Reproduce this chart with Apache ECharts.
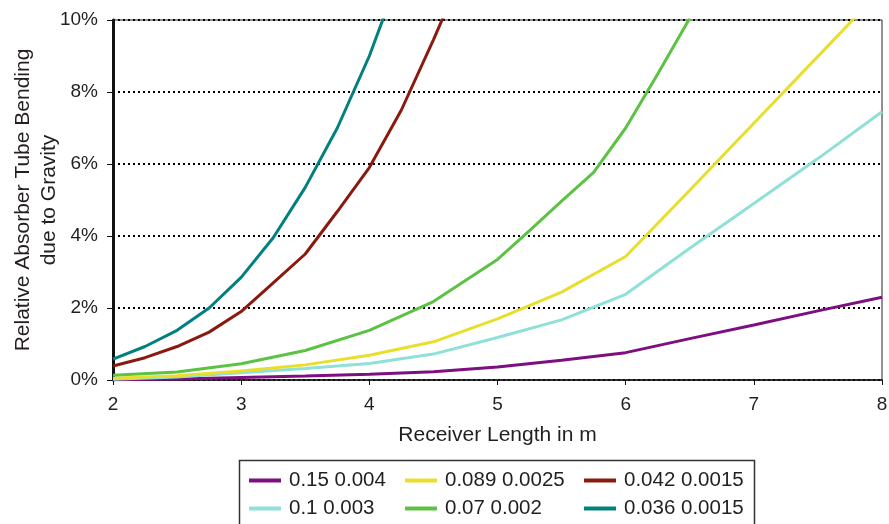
<!DOCTYPE html>
<html lang="en">

<head>
    <meta charset="UTF-8" />
    <title>Relative Absorber Tube Bending</title>
    <script src="https://cdn.jsdelivr.net/npm/echarts@6/dist/echarts.min.js"></script>
    <style>
        html, body { margin: 0; padding: 0; background: #ffffff; }
        #main { width: 889px; height: 524px; }
    </style>
</head>

<body>
    <div id="main"></div>

    <script type="text/javascript">
        // x positions (receiver length, m)
        var xFine = [2, 2.25, 2.5, 2.75, 3, 3.25, 3.5, 3.75, 4, 4.25, 4.5, 4.75];
        var xGreen = [2, 2.5, 3, 3.5, 4, 4.5, 5, 5.25, 5.5, 5.75, 6, 6.25, 6.5];
        var xHalf = [2, 2.5, 3, 3.5, 4, 4.5, 5, 5.5, 6, 6.5, 7, 7.5, 8];

        // bending in %
        var bend015 = [0.01, 0.03, 0.07, 0.11, 0.16, 0.23, 0.36, 0.55, 0.76, 1.15, 1.53, 1.92, 2.3];
        var bend01 = [0.02, 0.08, 0.2, 0.32, 0.46, 0.72, 1.18, 1.67, 2.38, 3.66, 4.9, 6.15, 7.45];
        var bend0089 = [0.05, 0.12, 0.25, 0.42, 0.69, 1.06, 1.7, 2.44, 3.43, 5.27, 7.13, 8.99, 10.85];
        var bend007 = [0.13, 0.22, 0.45, 0.82, 1.38, 2.18, 3.35, 4.15, 4.97, 5.77, 7.0, 8.5, 10.05];
        var bend0042 = [0.39, 0.62, 0.93, 1.33, 1.9, 2.7, 3.5, 4.68, 5.9, 7.5, 9.45, 11.5];
        var bend0036 = [0.58, 0.93, 1.38, 2.0, 2.85, 3.95, 5.35, 7.0, 9.0, 11.4];

        var yTicks = [0, 2, 4, 6, 8, 10];

        function pairs(xs, ys) {
            return ys.map(function (v, i) { return [xs[i], v]; });
        }

        var font = '"Liberation Sans", Arial, Helvetica, sans-serif';
        var txt = '#231f20';
        var lineIcon = 'path://M0,0L32,0L32,4L0,4Z';

        var myChart = echarts.init(document.getElementById('main'));

        function mkSeries(name, data, color) {
            return {
                name: name,
                type: 'line',
                data: data,
                showSymbol: false,
                symbol: 'none',
                clip: true,
                lineStyle: { color: color, width: 3 },
                itemStyle: { color: color }
            };
        }

        function mkLegend(left, names) {
            return {
                orient: 'vertical',
                left: left,
                top: 470,
                padding: 0,
                icon: lineIcon,
                itemWidth: 32,
                itemHeight: 4,
                itemGap: 7,
                data: names,
                textStyle: { fontFamily: font, fontSize: 20.5, color: txt, lineHeight: 20, padding: [0, 0, 0, 3] }
            };
        }

        var option = {
            animation: false,
            backgroundColor: '#ffffff',
            grid: {
                left: 113, right: 7, top: 20, bottom: 144,
                outerBoundsMode: 'none',
                show: true, borderColor: '#222', borderWidth: 1
            },
            legend: [
                mkLegend(249, ['0.15 0.004', '0.1 0.003']),
                mkLegend(405, ['0.089 0.0025', '0.07 0.002']),
                mkLegend(584, ['0.042 0.0015', '0.036 0.0015'])
            ],
            graphic: [{
                type: 'rect',
                shape: { x: 239.5, y: 460.5, width: 515, height: 80 },
                style: { fill: 'none', stroke: '#333', lineWidth: 1.5 }
            }],
            xAxis: {
                type: 'value',
                min: 2, max: 8, interval: 1,
                name: 'Receiver Length in m',
                nameLocation: 'middle',
                nameGap: 45,
                nameMoveOverlap: false,
                nameTextStyle: { fontFamily: font, fontSize: 21, color: txt },
                axisLine: { lineStyle: { color: '#111', width: 1.5 } },
                axisTick: { show: true, inside: false, length: 5, lineStyle: { color: '#111' } },
                axisLabel: { fontFamily: font, fontSize: 19, color: txt, margin: 15 },
                splitLine: { show: false }
            },
            yAxis: {
                type: 'value',
                min: 0, max: 10, interval: 2,
                name: 'Relative Absorber Tube Bending\ndue to Gravity',
                nameLocation: 'middle',
                nameGap: 51,
                nameMoveOverlap: false,
                nameTextStyle: { fontFamily: font, fontSize: 21, color: txt, lineHeight: 26 },
                axisLine: { show: true, lineStyle: { color: '#111', width: 3 } },
                axisTick: { show: true, inside: false, length: 6, lineStyle: { color: '#111' } },
                axisLabel: {
                    fontFamily: font, fontSize: 19, color: txt, margin: 15,
                    formatter: function (v) { return yTicks.indexOf(v) >= 0 ? v + '%' : ''; }
                },
                splitLine: { show: true, lineStyle: { color: '#000', width: 2, type: [2, 3] } }
            },
            series: [
                mkSeries('0.15 0.004', pairs(xHalf, bend015), '#7e0f80'),
                mkSeries('0.1 0.003', pairs(xHalf, bend01), '#8fe0d8'),
                mkSeries('0.089 0.0025', pairs(xHalf, bend0089), '#e8df2c'),
                mkSeries('0.07 0.002', pairs(xGreen, bend007), '#5cc244'),
                mkSeries('0.042 0.0015', pairs(xFine, bend0042), '#8a1a10'),
                mkSeries('0.036 0.0015', pairs(xFine, bend0036), '#00807e')
            ]
        };
        option && myChart.setOption(option);
    </script>
</body>

</html>
